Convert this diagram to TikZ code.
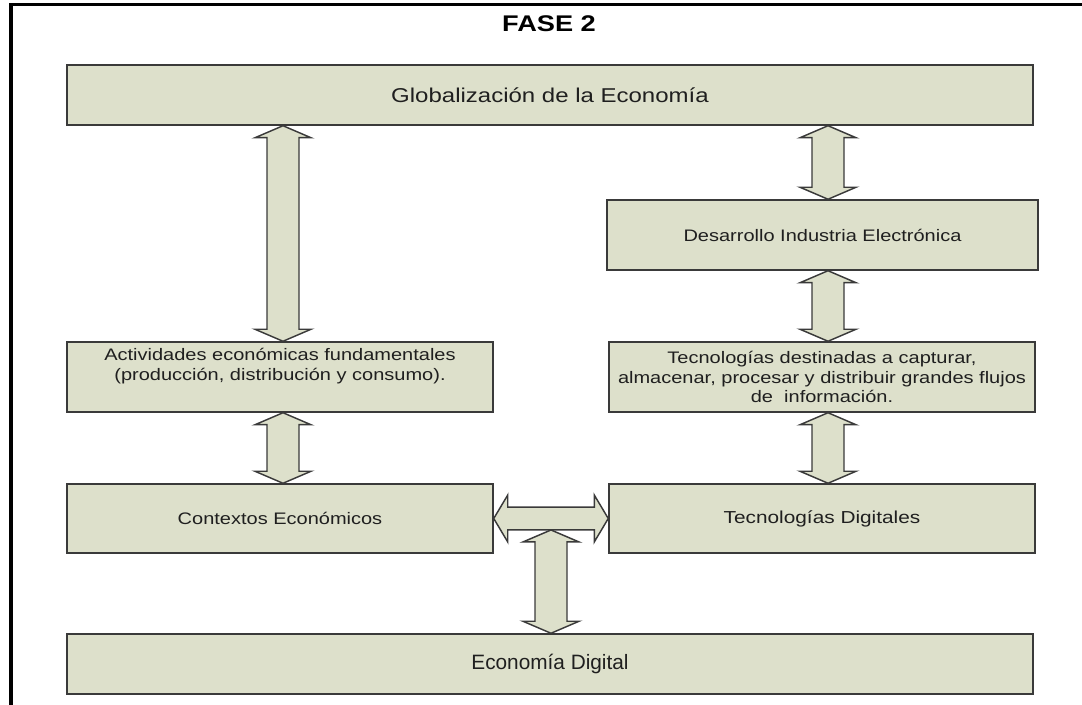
\documentclass[tikz,border=0pt]{standalone}
\usepackage{fontspec}
\usepackage{tikz}
\usetikzlibrary{positioning,calc}
\newfontfamily\boxfont{Liberation Sans}[FakeStretch=1.2]
\newfontfamily\plainfont{Liberation Sans}
\definecolor{sagefill}{HTML}{DDE0CB}
\definecolor{edgegray}{HTML}{3A3A3A}
\definecolor{inkgray}{HTML}{1F1F1F}

% vertical two-headed block arrow, tips at #1 (top) and #2 (bottom)
\newcommand{\vbiarrow}[2]{%
  \draw[blockarrow] let \p1=(#1), \p2=(#2) in
    (\x1,\y1) -- (\x1+21pt,\y1-9pt) -- (\x1+12pt,\y1-9pt) -- (\x1+12pt,\y2+9pt)
    -- (\x1+21pt,\y2+9pt) -- (\x1,\y2) -- (\x1-21pt,\y2+9pt) -- (\x1-12pt,\y2+9pt)
    -- (\x1-12pt,\y1-9pt) -- (\x1-21pt,\y1-9pt) -- cycle;}
% horizontal two-headed block arrow, tips at #1 (left) and #2 (right)
\newcommand{\hbiarrow}[2]{%
  \draw[blockarrow] let \p1=(#1), \p2=(#2) in
    (\x1,\y1) -- (\x1+10.5pt,\y1+17.6pt) -- (\x1+10.5pt,\y1+8.6pt) -- (\x2-10.5pt,\y1+8.6pt)
    -- (\x2-10.5pt,\y1+17.6pt) -- (\x2,\y1) -- (\x2-10.5pt,\y1-17.6pt) -- (\x2-10.5pt,\y1-8.6pt)
    -- (\x1+10.5pt,\y1-8.6pt) -- (\x1+10.5pt,\y1-17.6pt) -- cycle;}

\begin{document}
\begin{tikzpicture}[
    x=0.75pt, y=-0.75pt,
    stage/.style={rectangle, draw=edgegray, fill=sagefill, line width=1.1pt, align=center,
      text=inkgray, inner sep=0pt, minimum width=319.5pt, minimum height=52.5pt,
      font=\boxfont\fontsize{12.5}{14.6}\selectfont},
    wide/.style={stage, minimum width=724.5pt, minimum height=45pt},
    blockarrow/.style={draw=edgegray, fill=sagefill, line width=1.1pt, line join=miter},
    frameline/.style={draw=black, line width=2.4pt}
]
    \useasboundingbox (0,0) rectangle (1082,705);

    % --- OUTER FRAME AND TITLE ---
    \draw[frameline] (1082,4.5) -- (11,4.5) -- (11,705);
    \node[font=\boxfont\bfseries\fontsize{17}{20}\selectfont, text=black] (title) at (549,24) {FASE 2};

    % --- TOP AND BOTTOM BANDS ---
    \node[wide, font=\boxfont\fontsize{15}{18}\selectfont] (glob) at (550,95) {Globalización de la Economía};
    \node[wide, font=\plainfont\fontsize{15.6}{18}\selectfont] (eco) at (550,664) {Economía Digital};

    % --- RIGHT COLUMN ---
    \node[stage, minimum width=323pt] (desa) at (822.5,235) {Desarrollo Industria Electrónica};
    \node[stage] (tec) at (822,377) {Tecnologías destinadas a capturar,\\almacenar, procesar y distribuir grandes flujos\\de\ \ información.};
    \node[stage, minimum height=51.75pt, font=\boxfont\fontsize{13}{16}\selectfont] (dig) at (822,518.5) {Tecnologías Digitales};

    % --- LEFT COLUMN ---
    \node[stage] (act) at (280,377) {Actividades económicas fundamentales\\(producción, distribución y consumo).\\ \strut};
    \node[stage, minimum height=51.75pt] (ctx) at (280,518.5) {Contextos Económicos};

    % arrow axes
    \coordinate (axL) at (283,0);
    \coordinate (axR) at (828,0);
    \coordinate (hub) at ($(ctx.east)!0.5!(dig.west)$);

    % --- BLOCK ARROWS ---
    \vbiarrow{glob.south -| axL}{act.north -| axL}
    \vbiarrow{act.south -| axL}{ctx.north -| axL}
    \vbiarrow{glob.south -| axR}{desa.north -| axR}
    \vbiarrow{desa.south -| axR}{tec.north -| axR}
    \vbiarrow{tec.south -| axR}{dig.north -| axR}
    \hbiarrow{ctx.east}{dig.west}
    \vbiarrow{[yshift=-8.6pt]hub}{eco.north -| hub}
\end{tikzpicture}
\end{document}
